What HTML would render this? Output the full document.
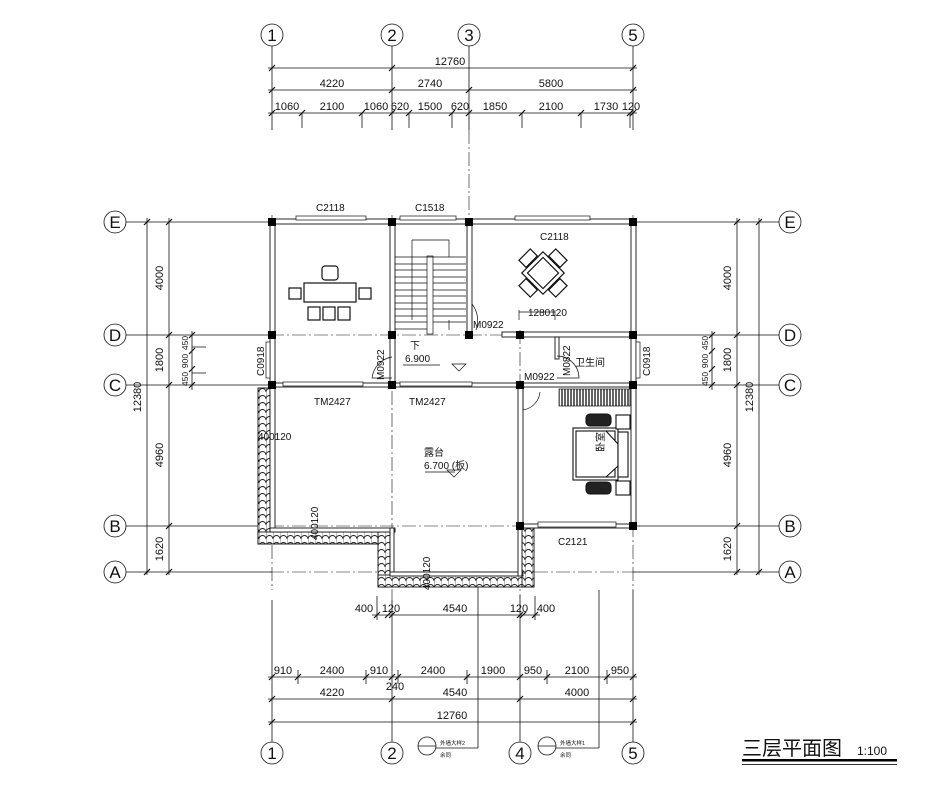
<!DOCTYPE html>
<html><head><meta charset="utf-8"><style>
html,body{margin:0;padding:0;background:#fff;width:939px;height:795px;overflow:hidden}
svg{display:block}
text{font-family:"Liberation Sans","Noto Sans CJK SC",sans-serif;fill:#111}
</style></head><body>
<svg width="939" height="795" viewBox="0 0 939 795" xmlns="http://www.w3.org/2000/svg">
<defs>
<pattern id="tile" width="7" height="7" patternUnits="userSpaceOnUse">
<rect width="7" height="7" fill="#fff"/>
<path d="M0,7 A3.5,3.5 0 0 1 7,7" fill="none" stroke="#222" stroke-width="0.9"/>
<path d="M0,0 L0,7" stroke="#222" stroke-width="0.6"/>
</pattern>
<pattern id="hatch" width="3" height="10" patternUnits="userSpaceOnUse">
<rect width="3" height="10" fill="#fff"/><path d="M1,0 L1,10" stroke="#111" stroke-width="1.3"/>
</pattern>
</defs>
<g stroke="#111" stroke-width="0.8" fill="none">
<circle cx="272" cy="35" r="11"/><circle cx="392" cy="35" r="11"/><circle cx="469" cy="35" r="11"/><circle cx="633" cy="35" r="11"/>
<circle cx="272" cy="753" r="11"/><circle cx="392" cy="753" r="11"/><circle cx="520" cy="753" r="11"/><circle cx="633" cy="753" r="11"/>
<circle cx="115" cy="222" r="11"/><circle cx="115" cy="335" r="11"/><circle cx="115" cy="385" r="11"/><circle cx="115" cy="526" r="11"/><circle cx="115" cy="572" r="11"/>
<circle cx="790" cy="222" r="11"/><circle cx="790" cy="335" r="11"/><circle cx="790" cy="385" r="11"/><circle cx="790" cy="526" r="11"/><circle cx="790" cy="572" r="11"/>
<path d="M272,46V130M392,46V130M469,46V130M633,46V130"/>
<path d="M302,113V128M362,113V128M409,113V128M452,113V128M522,113V128M581,113V128M630,113V128"/>
<g stroke-dasharray="14,3,2,3" stroke-width="0.6">
<path d="M469,130V220M272,215V590M392,215V600M520,330V595M633,215V590"/>
<path d="M270,222H640M270,335H640M270,385H640M270,526H640M270,572H640"/>
</g>
<path d="M272,600V742M392,600V742M520,595V742M633,590V742M377,596V620M535,596V620M478,575V748M599,590V748"/>
<path d="M268,68H637M268,90H637M268,113H637"/>
<path d="M372,615H540M268,677H637M268,699H637M268,722H637"/>
<path d="M298,670V684M366,670V684M398,670V684M467,670V684M547,670V684M607,670V684"/>
<path d="M126,222H272M126,335H272M126,385H272M126,526H272M126,572H272"/>
<path d="M633,222H779M633,335H779M633,385H779M633,526H779M633,572H779"/>
<path d="M147,218V575M169,218V575M192,331V390M192,347H206M192,373H206"/>
<path d="M759,218V575M737,218V575M712,331V390"/>
</g>
<g stroke="#111" stroke-width="1.2">
<path d="M269,71l6,-6M389,71l6,-6M630,71l6,-6M269,93l6,-6M389,93l6,-6M466,93l6,-6M630,93l6,-6
M269,116l6,-6M299,116l6,-6M359,116l6,-6M389,116l6,-6M406,116l6,-6M449,116l6,-6M466,116l6,-6M519,116l6,-6M578,116l6,-6M627,116l6,-6M630,116l6,-6
M374,618l6,-6M385,618l6,-6M389,618l6,-6M517,618l6,-6M520,618l6,-6M532,618l6,-6
M269,680l6,-6M295,680l6,-6M363,680l6,-6M389,680l6,-6M395,680l6,-6M464,680l6,-6M517,680l6,-6M544,680l6,-6M604,680l6,-6M630,680l6,-6
M269,702l6,-6M389,702l6,-6M517,702l6,-6M630,702l6,-6M269,725l6,-6M630,725l6,-6
M144,225l6,-6M144,575l6,-6M166,225l6,-6M166,338l6,-6M166,388l6,-6M166,529l6,-6M166,575l6,-6M189,338l6,-6M189,354l6,-6M189,372l6,-6M189,388l6,-6
M756,225l6,-6M756,575l6,-6M734,225l6,-6M734,338l6,-6M734,388l6,-6M734,529l6,-6M734,575l6,-6M709,338l6,-6M709,354l6,-6M709,372l6,-6M709,388l6,-6"/>
</g>
<g font-family="Liberation Serif,serif" font-size="17" text-anchor="middle">
<text x="272" y="41">1</text><text x="392" y="41">2</text><text x="469" y="41">3</text><text x="633" y="41">5</text>
<text x="272" y="759">1</text><text x="392" y="759">2</text><text x="520" y="759">4</text><text x="633" y="759">5</text>
<text x="115" y="228">E</text><text x="115" y="341">D</text><text x="115" y="391">C</text><text x="115" y="532">B</text><text x="115" y="578">A</text>
<text x="790" y="228">E</text><text x="790" y="341">D</text><text x="790" y="391">C</text><text x="790" y="532">B</text><text x="790" y="578">A</text>
</g>
<g font-size="11" text-anchor="middle" font-family="Liberation Sans Narrow,Liberation Sans,sans-serif">
<text x="450" y="65">12760</text>
<text x="332" y="87">4220</text><text x="430" y="87">2740</text><text x="551" y="87">5800</text>
<text x="287" y="110">1060</text><text x="332" y="110">2100</text><text x="376" y="110">1060</text><text x="400" y="110">620</text><text x="430" y="110">1500</text><text x="460" y="110">620</text><text x="495" y="110">1850</text><text x="551" y="110">2100</text><text x="606" y="110">1730</text><text x="631" y="110">120</text>
<text x="364" y="612">400</text><text x="391" y="612">120</text><text x="455" y="612">4540</text><text x="519" y="612">120</text><text x="546" y="612">400</text>
<text x="283" y="674">910</text><text x="332" y="674">2400</text><text x="379" y="674">910</text><text x="433" y="674">2400</text><text x="493" y="674">1900</text><text x="533" y="674">950</text><text x="577" y="674">2100</text><text x="620" y="674">950</text>
<text x="395" y="690">240</text>
<text x="332" y="696">4220</text><text x="455" y="696">4540</text><text x="577" y="696">4000</text>
<text x="452" y="719">12760</text>
<g transform="translate(141,397) rotate(-90)"><text>12380</text></g>
<g transform="translate(163,278) rotate(-90)"><text>4000</text></g>
<g transform="translate(163,360) rotate(-90)"><text>1800</text></g>
<g transform="translate(163,455) rotate(-90)"><text>4960</text></g>
<g transform="translate(163,549) rotate(-90)"><text>1620</text></g>
<g transform="translate(753,397) rotate(-90)"><text>12380</text></g>
<g transform="translate(731,278) rotate(-90)"><text>4000</text></g>
<g transform="translate(731,360) rotate(-90)"><text>1800</text></g>
<g transform="translate(731,455) rotate(-90)"><text>4960</text></g>
<g transform="translate(731,549) rotate(-90)"><text>1620</text></g>
<g font-size="8.5">
<g transform="translate(188,343) rotate(-90)"><text>450</text></g>
<g transform="translate(188,361) rotate(-90)"><text>900</text></g>
<g transform="translate(188,379) rotate(-90)"><text>450</text></g>
<g transform="translate(708,343) rotate(-90)"><text>450</text></g>
<g transform="translate(708,361) rotate(-90)"><text>900</text></g>
<g transform="translate(708,379) rotate(-90)"><text>450</text></g>
</g>
</g>
<g stroke="#111" stroke-width="0.9">
<rect x="258" y="388" width="12" height="156" fill="url(#tile)"/>
<rect x="258" y="532" width="132" height="12" fill="url(#tile)"/>
<rect x="378" y="532" width="12" height="55" fill="url(#tile)"/>
<rect x="378" y="575" width="156" height="12" fill="url(#tile)"/>
<rect x="522" y="528" width="12" height="59" fill="url(#tile)"/>
</g>
<g stroke="#111" stroke-width="0.9" fill="#fff">
<rect x="270" y="219" width="365" height="5"/>
<rect x="270" y="219" width="5" height="310"/>
<rect x="631" y="219" width="5" height="310"/>
<rect x="390" y="219" width="5" height="169"/>
<rect x="467" y="219" width="5" height="118"/>
<rect x="502" y="332" width="133" height="5"/>
<rect x="270" y="383" width="365" height="4"/>
<rect x="518" y="383" width="5" height="145"/>
<rect x="518" y="524" width="117" height="4"/>
<rect x="270" y="528" width="125" height="4"/>
<rect x="390" y="528" width="4" height="48"/>
<rect x="390" y="572" width="133" height="4"/>
<rect x="518" y="526" width="4" height="50"/>
<rect x="555" y="337" width="4" height="22"/>
</g>
<g stroke="#111" stroke-width="0.7" fill="#fff">
<rect x="296" y="216" width="70" height="4"/><rect x="400" y="216" width="56" height="4"/><rect x="515" y="216" width="75" height="4"/>
<rect x="266" y="342" width="4" height="36"/><rect x="636" y="342" width="4" height="36"/>
<rect x="538" y="522" width="78" height="5"/>
<rect x="283" y="382" width="80" height="4"/><rect x="400" y="382" width="72" height="4"/>
</g>
<g fill="#000">
<rect x="268" y="218" width="8" height="8"/><rect x="388" y="218" width="8" height="8"/><rect x="465" y="218" width="8" height="8"/><rect x="629" y="218" width="8" height="8"/>
<rect x="268" y="331" width="8" height="8"/><rect x="388" y="331" width="8" height="8"/><rect x="465" y="331" width="8" height="8"/><rect x="516" y="331" width="8" height="8"/><rect x="629" y="331" width="8" height="8"/>
<rect x="268" y="381" width="8" height="8"/><rect x="388" y="381" width="8" height="8"/><rect x="516" y="381" width="8" height="8"/><rect x="629" y="381" width="8" height="8"/>
<rect x="516" y="522" width="8" height="8"/><rect x="629" y="522" width="8" height="8"/>
</g>
<g stroke="#111" stroke-width="0.7" fill="none">
<path d="M412,240H449V257"/>
<path d="M395,257H466M395,264H427M395,270H427M395,277H427M395,283H427M395,290H427M395,296H427M395,303H427M395,309H427M395,316H427M395,322H427M395,329H427"/>
<path d="M433,264H466M433,270H466M433,277H466M433,283H466M433,290H466M433,296H466M433,303H466M433,309H466M433,316H466M433,322H466"/>
<rect x="427" y="256" width="6" height="78"/><path d="M412,240V320M449,320V330"/>
<path d="M472,304A27,27 0 0 1 476,330M472,304V330"/>
<path d="M392,357A24,24 0 0 0 372,378H392"/>
<path d="M557,356A22,22 0 0 1 579,378H557"/>
<path d="M523,388V410A20,20 0 0 0 540,392"/>
<path d="M519,310V320M519,312H555M555,310V320"/>
<path d="M403,365H440M452,364H466L459,371Z"/>
<path d="M425,472H455M447,470H461L454,477Z"/>
</g>
<rect x="559" y="389" width="71" height="17" fill="url(#hatch)" stroke="#111" stroke-width="0.7"/>
<g stroke="#111" stroke-width="1.2" fill="#fff">
<rect x="304" y="283" width="52" height="19"/>
<rect x="289" y="288" width="12" height="11"/><rect x="359" y="288" width="12" height="11"/>
<rect x="308" y="307" width="12" height="13"/><rect x="323" y="307" width="12" height="13"/><rect x="338" y="307" width="12" height="13"/>
<rect x="322" y="266" width="16" height="14" rx="3"/>
</g>
<g stroke="#111" stroke-width="1.2" fill="#fff" transform="translate(543,273) rotate(45)">
<rect x="-8" y="-26" width="16" height="10"/><rect x="-8" y="16" width="16" height="10"/><rect x="-26" y="-8" width="10" height="16"/><rect x="16" y="-8" width="10" height="16"/>
<rect x="-15" y="-15" width="30" height="30"/><rect x="-11" y="-11" width="22" height="22"/>
</g>
<g stroke="#111" stroke-width="1.1" fill="#fff">
<rect x="573" y="428" width="45" height="52"/><rect x="576" y="431" width="39" height="46"/>
<path d="M606,431L618,444V466L606,477"/>
<rect x="618" y="432" width="10" height="45"/>
<rect x="616" y="415" width="14" height="14"/><rect x="616" y="481" width="14" height="14"/>
<rect x="586" y="414" width="25" height="12" rx="4" fill="#222"/><rect x="586" y="482" width="25" height="12" rx="4" fill="#222"/>
</g>
<g stroke="#111" stroke-width="0.8" fill="none">
<circle cx="427" cy="746" r="9"/><path d="M418,746H436M436,748H478"/>
<circle cx="547" cy="746" r="9"/><path d="M538,746H556M556,748H599"/>
</g>
<g font-size="5.5"><text x="440" y="745">外墙大样2</text><text x="440" y="757">余同</text><text x="560" y="745">外墙大样1</text><text x="560" y="757">余同</text></g>
<g font-size="10">
<text x="316" y="211">C2118</text><text x="415" y="211">C1518</text><text x="540" y="240">C2118</text>
<text x="528" y="316">1280120</text><text x="473" y="328">M0922</text>
<text x="410" y="349">下</text><text x="405" y="362">6.900</text>
<text x="575" y="366">卫生间</text><text x="524" y="380">M0922</text>
<text x="314" y="405">TM2427</text><text x="409" y="405">TM2427</text>
<text x="424" y="456">露台</text><text x="424" y="469">6.700 (板)</text>
<text x="558" y="545">C2121</text>
<text x="258" y="440">400120</text>
<g transform="translate(264,376) rotate(-90)"><text>C0918</text></g>
<g transform="translate(650,376) rotate(-90)"><text>C0918</text></g>
<g transform="translate(384,380) rotate(-90)"><text>M0922</text></g>
<g transform="translate(570,376) rotate(-90)"><text>M0822</text></g>
<g transform="translate(604,452) rotate(-90)"><text>卧室</text></g>
<g transform="translate(318,540) rotate(-90)"><text>400120</text></g>
<g transform="translate(430,590) rotate(-90)"><text>400120</text></g>
</g>
<text x="742" y="755" font-size="20">三层平面图</text>
<text x="857" y="755" font-size="12">1:100</text>
<rect x="742" y="759" width="155" height="2.5" fill="#000"/>
<rect x="742" y="764" width="155" height="0.8" fill="#000"/>
</svg>
</body></html>
